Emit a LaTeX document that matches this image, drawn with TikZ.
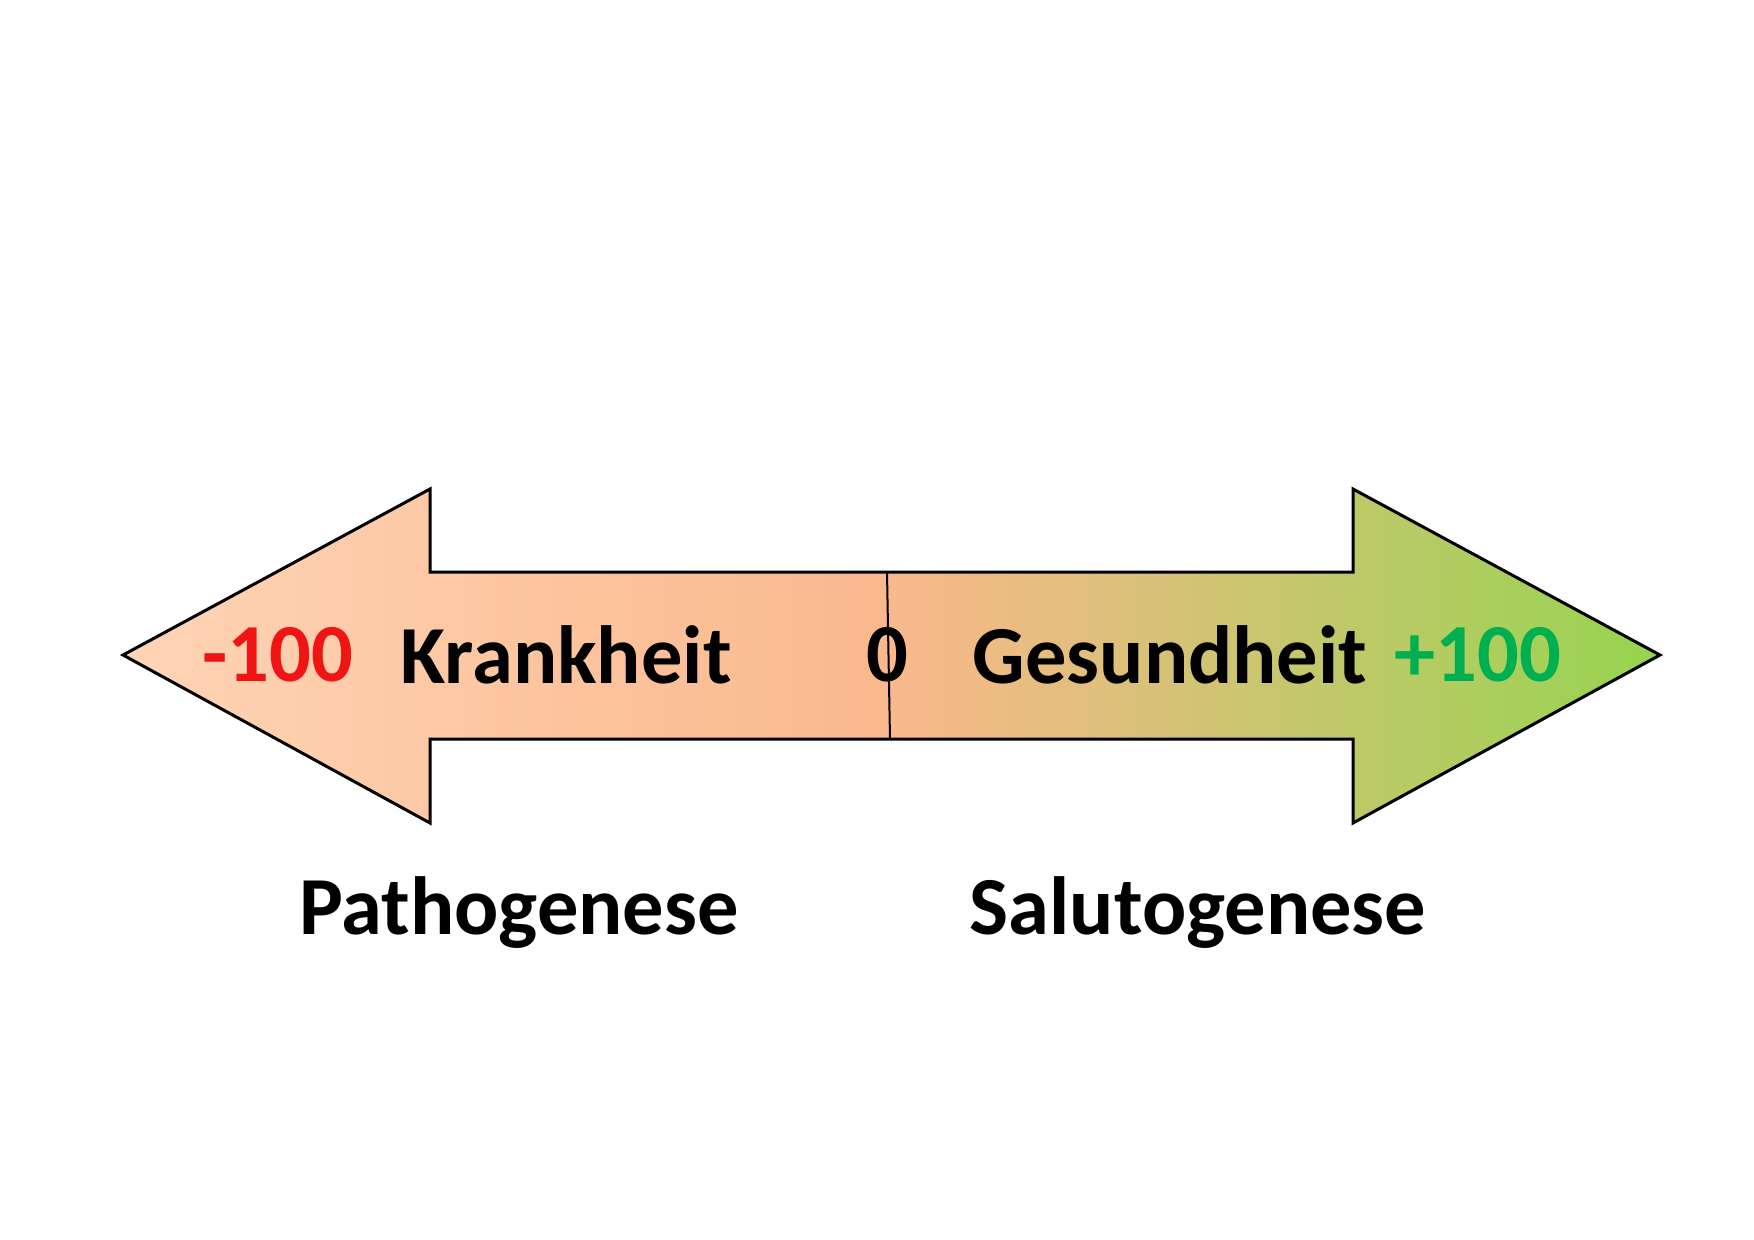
\documentclass[tikz,border=0pt]{standalone}
\usepackage{fontspec}
\setmainfont{Carlito}
\definecolor{peach}{RGB}{255,212,182}
\definecolor{salmon}{RGB}{250,184,140}
\definecolor{leaf}{RGB}{150,212,80}
\definecolor{minus}{RGB}{240,20,20}
\definecolor{plus}{RGB}{0,176,80}

\begin{document}
\begin{tikzpicture}[x=0.4pt,y=-0.4pt,thick]

\useasboundingbox (0,0) rectangle (1754,1240);

\tikzset{lbl/.style={font=\fontsize{33}{40}\selectfont\bfseries}}

%arrow body
\draw[line width=1.2pt,line join=miter,left color=peach,right color=leaf,middle color=salmon]
 (123,655) -- (430,489) -- (430,572) -- (1353,572) -- (1353,489) -- (1660,655)
 -- (1353,823) -- (1353,739) -- (430,739) -- (430,823) -- cycle;

%zero mark
\coordinate (ztop) at (887,572);
\coordinate (zbot) at (890,739);
\draw[line width=0.8pt] (ztop) -- (zbot);

%labels
\node[lbl,text=minus] at (278,655) (lo) {-100};
\node[lbl] at (566,655) (krank) {Krankheit};
\node[lbl] at (887,655) (zero) {0};
\node[lbl] at (1170,655) (gesund) {Gesundheit};
\node[lbl,text=plus] at (1478,655) (hi) {+100};

\node[lbl] at (519,913) (patho) {Pathogenese};
\node[lbl] at (1198,913) (saluto) {Salutogenese};

\end{tikzpicture}
\end{document}
